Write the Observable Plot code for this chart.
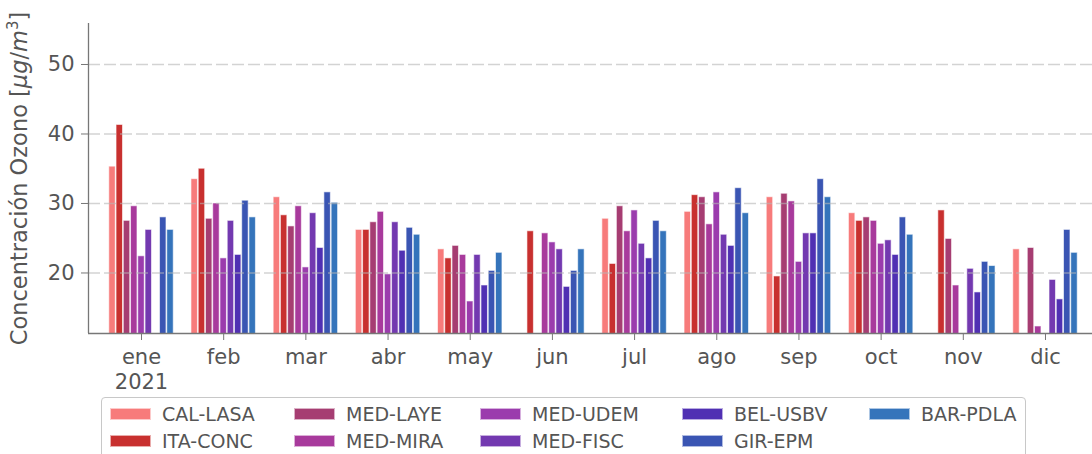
<!DOCTYPE html>
<html>
<head>
<meta charset="utf-8">
<script src="https://cdn.jsdelivr.net/npm/d3@7"></script>
<script src="https://cdn.jsdelivr.net/npm/@observablehq/plot@0.6"></script>
<style>
  body { margin: 0; background: white; overflow: hidden; }
  #chart { position: relative; width: 1092px; height: 454px; font-family: "DejaVu Sans", sans-serif; }
  #legend {
    position: absolute; left: 101px; top: 397px; width: 925px; height: 80px;
    border: 1px solid #c8c8c8; border-radius: 4px; box-sizing: border-box;
    display: grid; grid-auto-flow: column;
    grid-template-rows: 27px 27px;
    grid-template-columns: 184px 186px 202px 187px auto;
    padding: 2px 0 0 8px;
    font-size: 19px; color: #555;
  }
  .item { display: flex; align-items: center; white-space: nowrap; }
  .swatch { display: inline-block; width: 41px; height: 12px; margin-right: 11px; box-sizing: border-box; border: 1px solid rgba(255,255,255,0.6); }
</style>
</head>
<body>
<div id="chart"></div>
<script>
// Monthly mean ozone concentration per station, 2021
const months = ["ene", "feb", "mar", "abr", "may", "jun", "jul", "ago", "sep", "oct", "nov", "dic"];
const year = "2021";
const stations = ["CAL-LASA", "ITA-CONC", "MED-LAYE", "MED-MIRA", "MED-UDEM", "MED-FISC", "BEL-USBV", "GIR-EPM", "BAR-PDLA"];
const stationColors = ["#f77b7b", "#c8302f", "#a63d72", "#a83a9c", "#9b3cad", "#7339b0", "#5030b3", "#3a55b3", "#3574bb"];
const yTicks = [20, 30, 40, 50];

// null = no data for that month
const calLasa = [35.3, 33.5, 30.9, 26.2, 23.4, null, 27.8, 28.8, 30.9, 28.6, null, 23.4];
const itaConc = [41.3, 35.0, 28.3, 26.2, 22.1, 26.0, 21.3, 31.2, 19.5, 27.5, 29.0, null];
const medLaye = [27.5, 27.8, 26.7, 27.3, 23.9, null, 29.6, 30.9, 31.4, 28.0, 24.9, 23.6];
const medMira = [29.6, 30.0, 29.6, 28.8, 22.6, 25.7, 26.0, 27.0, 30.3, 27.5, 18.2, 12.3];
const medUdem = [22.4, 22.1, 20.8, 19.8, 15.9, 24.4, 29.0, 31.6, 21.6, 24.2, null, null];
const medFisc = [26.2, 27.5, 28.6, 27.3, 22.6, 23.4, 24.2, 25.5, 25.7, 24.7, 20.6, 19.0];
const belUsbv = [null, 22.6, 23.6, 23.2, 18.2, 18.0, 22.1, 23.9, 25.7, 22.6, 17.2, 16.2];
const girEpm  = [28.0, 30.4, 31.6, 26.5, 20.3, 20.3, 27.5, 32.2, 33.5, 28.0, 21.6, 26.2];
const barPdla = [26.2, 28.0, 30.1, 25.5, 22.9, 23.4, 26.0, 28.6, 30.9, 25.5, 21.0, 22.9];

const series = [calLasa, itaConc, medLaye, medMira, medUdem, medFisc, belUsbv, girEpm, barPdla];

// Long table: one row per (month, station) with a value
const rows = [];
series.forEach((vals, si) => {
  vals.forEach((v, mi) => {
    if (v != null) rows.push({month: months[mi], mi, station: stations[si], si, value: v});
  });
});

// Bars of a month are placed side by side around the month position
const slot = 0.0882;                       // width of one bar slot, in month units
const half = slot * stations.length / 2;
const xDomain = [-0.645, 11.572];
const yDomain = [11.29, 55.9];

const plot = Plot.plot({
  width: 1092,
  height: 392,
  marginLeft: 88,
  marginRight: 0,
  marginTop: 23,
  marginBottom: 59,
  style: {fontFamily: "DejaVu Sans, sans-serif", fontSize: "21px", color: "#555", background: "white", overflow: "visible"},
  x: {type: "linear", domain: xDomain},
  y: {domain: yDomain},
  color: {domain: stations, range: stationColors},
  marks: [
    Plot.rect(rows, {
      x1: d => d.mi - half + d.si * slot,
      x2: d => d.mi - half + (d.si + 1) * slot,
      y1: 0,
      y2: "value",
      fill: "station",
      stroke: "white",
      strokeOpacity: 0.6,
      strokeWidth: 1,
      insetLeft: 0.4,
      insetRight: 0.4,
      clip: true
    }),
    Plot.gridY(yTicks, {stroke: "#b5b5b5", strokeOpacity: 0.6, strokeWidth: 1.6, strokeDasharray: "12,4"}),
    Plot.ruleY([yDomain[0]], {stroke: "#777", strokeWidth: 1.3}),
    Plot.ruleX([xDomain[0]], {stroke: "#777", strokeWidth: 1.3}),
    Plot.axisY(yTicks, {
      tickSize: 7, tickPadding: 7, stroke: "#777",
      label: "Concentración Ozono [μg/m3]",
      labelAnchor: "center", labelOffset: 77, labelArrow: "none"
    }),
    Plot.axisX(d3.range(months.length), {
      tickSize: 7, tickPadding: 9, stroke: "#777",
      tickFormat: i => months[i],
      label: null
    }),
    // year shown once, under the first month
    Plot.axisX([0], {
      tickSize: 0, tickPadding: 41,
      tickFormat: () => year,
      label: null
    })
  ]
});

const chart = document.getElementById("chart");
chart.appendChild(plot);

// Unit in the y label: italic symbols and a superscript exponent
const lab = plot.querySelector('g[aria-label="y-axis label"] text');
if (lab) {
  lab.textContent = "";
  const ns = "http://www.w3.org/2000/svg";
  const parts = [
    ["Concentración Ozono [", {}],
    ["μg", {"font-style": "italic"}],
    ["/", {}],
    ["m", {"font-style": "italic"}],
    ["3", {"font-size": "15px", "baseline-shift": "super"}],
    ["]", {}]
  ];
  for (const [t, attrs] of parts) {
    const ts = document.createElementNS(ns, "tspan");
    ts.textContent = t;
    for (const k in attrs) ts.setAttribute(k, attrs[k]);
    lab.appendChild(ts);
  }
  lab.setAttribute("font-size", "22.5px");
}

// Legend below the chart: five columns, filled top to bottom
const legend = document.createElement("div");
legend.id = "legend";
stations.forEach((s, i) => {
  const item = document.createElement("div");
  item.className = "item";
  const sw = document.createElement("span");
  sw.className = "swatch";
  sw.style.background = stationColors[i];
  const tx = document.createElement("span");
  tx.textContent = s;
  item.appendChild(sw);
  item.appendChild(tx);
  legend.appendChild(item);
});
chart.appendChild(legend);
</script>
</body>
</html>
